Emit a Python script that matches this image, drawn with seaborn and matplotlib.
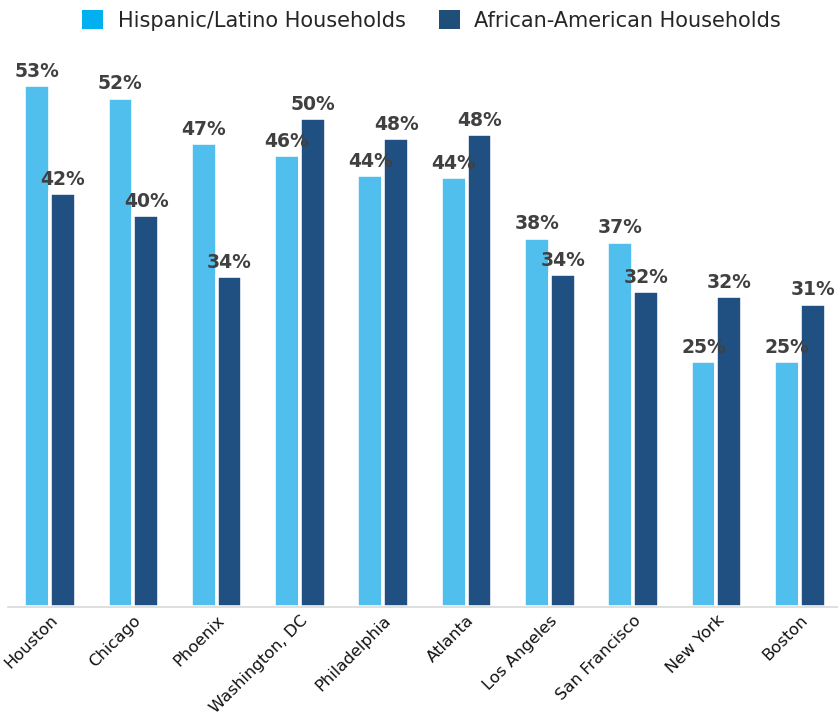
import pandas as pd
import matplotlib.pyplot as plt
import seaborn as sns
from matplotlib.patches import Patch

# Share of households by city (percent)
cities = ['Houston', 'Chicago', 'Phoenix', 'Washington, DC', 'Philadelphia',
          'Atlanta', 'Los Angeles', 'San Francisco', 'New York', 'Boston']
hispanic = [53.0, 51.7, 47.1, 45.9, 43.8, 43.6, 37.5, 37.1, 25.0, 25.0]
african_american = [42.0, 39.8, 33.6, 49.6, 47.6, 48.0, 33.8, 32.1, 31.6, 30.8]
series = ['Hispanic/Latino Households', 'African-American Households']

bar_colors = ['#50BFEE', '#1F5081']
legend_colors = ['#00B0F0', '#1F4E79']

# Long format for seaborn
df = pd.DataFrame({
    'city': cities * 2,
    'share': hispanic + african_american,
    'group': [series[0]] * len(cities) + [series[1]] * len(cities),
})

sns.set_style('white')
plt.rcParams['font.family'] = ['DejaVu Sans']

fig = plt.figure(figsize=(8.38, 7.22), dpi=100)
ax = fig.add_axes([0.01, 0.159, 0.994, 0.80])

sns.barplot(data=df, x='city', y='share', hue='group', order=cities,
            hue_order=series, palette=bar_colors, saturation=1, width=0.62,
            edgecolor='white', linewidth=2.6, ax=ax, legend=False)

# Value labels over bars
for container in ax.containers:
    ax.bar_label(container, fmt='%.0f%%', padding=3, fontsize=13.5,
                 fontweight='bold', color='#404040')

ax.set_ylim(0, 58.6)
ax.set_xlim(-0.5, 9.5)
ax.set_xlabel('')
ax.set_ylabel('')
ax.set_yticks([])
ax.tick_params(axis='x', length=0, pad=4)
plt.setp(ax.get_xticklabels(), rotation=45, ha='right',
         rotation_mode='anchor', fontsize=11.8, color='#111111')

for side in ['top', 'right', 'left']:
    ax.spines[side].set_visible(False)
ax.spines['bottom'].set_color('#D9D9D9')
ax.spines['bottom'].set_linewidth(1.2)

# Legend across the top
handles = [Patch(facecolor=c, edgecolor='none') for c in legend_colors]
fig.legend(handles, series, loc='upper center', bbox_to_anchor=(0.515, 1.012),
           ncol=2, frameon=False, fontsize=15, handlelength=1.0,
           handleheight=1.0, columnspacing=1.6, handletextpad=0.7)

plt.savefig('out.png', dpi=100)
